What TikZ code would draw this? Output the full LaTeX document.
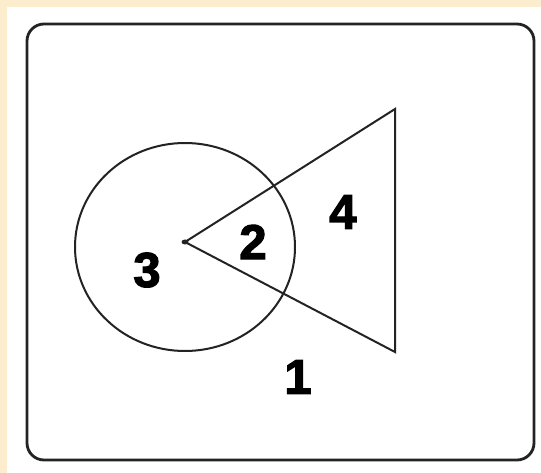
\documentclass[tikz,border=0pt]{standalone}
\usepackage{fontspec}
\setmainfont{Liberation Sans}[BoldFeatures={FakeBold=2.5}]
\usepackage{tikz}

\definecolor{cream}{RGB}{252,237,206}
\definecolor{ink}{RGB}{35,35,35}

\begin{document}
\begin{tikzpicture}[x=1pt,y=-1pt,
    frame/.style={line width=2.8pt,draw=ink,rounded corners=17pt},
    outline/.style={line width=2pt,draw=ink},
    region/.style={font=\fontsize{49}{49}\bfseries\selectfont}]

  % --- page: cream margin on the left and top, white paper ---
  \useasboundingbox (0,0) rectangle (541,473);
  \fill[cream] (0,0) rectangle (541,473);
  \fill[white] (7,7) rectangle (541,473);

  % --- the universe, a rounded box ---
  \draw[frame] (27,24) rectangle (534,460);

  % --- the circle round the vertex ---
  \coordinate (centre) at (185,247);
  \draw[outline] (centre) ellipse [x radius=110,y radius=104];

  % --- the triangle, apex at the centre ---
  \coordinate (apex)  at (185,242);
  \coordinate (upper) at (395,109);
  \coordinate (lower) at (395,352);
  \draw[outline] (apex) -- (upper) -- (lower) -- cycle;
  \fill[ink] (apex) ellipse [x radius=3.5,y radius=2.5];

  % --- region numbers ---
  \node[region] (one)   at (298,377) {1};
  \node[region] (two)   at (253,242) {2};
  \node[region] (three) at (147,270) {3};
  \node[region] (four)  at (343,212) {4};
\end{tikzpicture}
\end{document}
